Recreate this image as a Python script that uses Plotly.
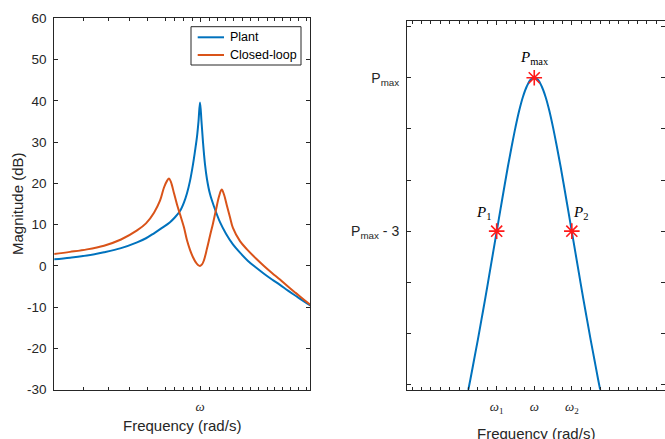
import plotly.graph_objects as go

W, H = 665, 439

# ---------------- Left panel: magnitude responses (frequency normalised, omega = 1) ----------------
plant_freq = [0.4315, 0.4732, 0.5218, 0.5754, 0.6346, 0.6960, 0.7328, 0.7674, 0.8035, 0.8414,
              0.8660, 0.8913, 0.9120, 0.9279, 0.9441, 0.9605, 0.9716, 0.9829, 0.9914, 1.0000,
              1.0087, 1.0174, 1.0292, 1.0411, 1.0593, 1.0839, 1.1220, 1.1614, 1.2088, 1.2589,
              1.3183, 1.3804, 1.4454, 1.5136, 1.5849, 1.6596, 1.7378, 1.8197, 1.8870]
plant_db = [1.6, 2.0, 2.5, 3.3, 4.3, 5.7, 6.7, 7.9, 9.2, 10.6,
            11.8, 13.3, 15.4, 17.6, 20.6, 24.6, 27.8, 31.3, 35.0, 39.6,
            35.0, 30.0, 24.6, 21.0, 17.4, 14.4, 10.6, 7.8, 5.2, 3.2,
            1.2, -0.4, -1.9, -3.3, -4.6, -6.0, -7.3, -8.6, -9.6]

cl_freq = [0.4315, 0.4732, 0.5218, 0.5754, 0.6346, 0.6960, 0.7328, 0.7674, 0.7943, 0.8128,
           0.8270, 0.8366, 0.8462, 0.8610, 0.8760, 0.8913, 0.9120, 0.9279, 0.9441, 0.9605,
           0.9772, 0.9886, 1.0000, 1.0116, 1.0233, 1.0411, 1.0593, 1.0777, 1.0965, 1.1156,
           1.1331, 1.1482, 1.1682, 1.1885, 1.2088, 1.2589, 1.3106, 1.3804, 1.4454, 1.5136,
           1.5849, 1.6596, 1.7378, 1.8197, 1.8870]
cl_db = [2.9, 3.4, 4.0, 4.9, 6.4, 8.6, 10.3, 12.9, 15.8, 19.0,
         20.6, 21.2, 20.3, 17.6, 14.9, 12.5, 9.3, 6.2, 3.9, 2.1,
         0.8, 0.2, 0.0, 0.35, 1.4, 4.2, 7.3, 10.3, 13.6, 16.8,
         18.5, 17.3, 14.5, 11.8, 9.2, 6.0, 4.0, 1.8, 0.0, -1.7,
         -3.3, -5.0, -6.6, -8.2, -9.4]

left_ytick_vals = [-30, -20, -10, 0, 10, 20, 30, 40, 50, 60]
left_ytick_text = ["-30", "-20", "-10", "0", "10", "20", "30", "40", "50", "60"]
left_xtick_vals = [1.0]
left_xtick_text = ["<i>ω</i>"]
left_xminor_vals = [0.511, 0.590, 0.665, 0.740, 0.818, 0.861, 0.908, 0.957, 1.055, 1.107,
                    1.161, 1.216, 1.276, 1.339, 1.404, 1.473, 1.540, 1.610, 1.686, 1.768, 1.849]

legend_names = ["Plant", "Closed-loop"]

# ---------------- Right panel: -3 dB bandwidth sketch ----------------
bw_freq = [0.905, 0.910, 0.915, 0.920, 0.925, 0.930, 0.935, 0.940, 0.945, 0.950,
           0.955, 0.960, 0.965, 0.970, 0.975, 0.980, 0.985, 0.990, 0.995, 1.000,
           1.005, 1.010, 1.015, 1.020, 1.025, 1.030, 1.035, 1.040, 1.045, 1.050,
           1.055, 1.060, 1.065, 1.070, 1.075, 1.080, 1.085, 1.090, 1.095]
bw_db = [-6.64, -6.27, -5.90, -5.51, -5.12, -4.71, -4.30, -3.87, -3.44, -3.01,
         -2.58, -2.15, -1.73, -1.34, -0.97, -0.64, -0.37, -0.17, -0.04, 0.00,
         -0.04, -0.17, -0.37, -0.64, -0.97, -1.34, -1.73, -2.15, -2.58, -3.01,
         -3.44, -3.87, -4.30, -4.71, -5.12, -5.51, -5.90, -6.27, -6.64]

pt_freq = [0.95, 1.0, 1.05]
pt_db = [-3.0, 0.0, -3.0]
pt_labels = ["<i>P</i><sub>1</sub>", "<i>P</i><sub>max</sub>", "<i>P</i><sub>2</sub>"]
pt_shift = [(-13.5, 18.5), (0, 20), (8.5, 18.5)]

right_ytick_vals = [-6, -5, -4, -3, -2, -1, 0, 1]
right_ytick_text = ["", "", "", "P<sub>max</sub> - 3", "", "", "P<sub>max</sub>", ""]
right_xtick_vals = [0.95, 1.0, 1.05]
right_xtick_text = ["<i>ω</i><sub>1</sub>", "<i>ω</i>", "<i>ω</i><sub>2</sub>"]

BLUE = "#0072BD"
ORANGE = "#D95319"
RED = "#FF1A1A"
AX = "#262626"
SANS = "Liberation Sans, Arial, sans-serif"
SERIF = "Liberation Serif, Times New Roman, serif"
colors = [BLUE, ORANGE]

fig = go.Figure()
fig.add_trace(go.Scatter(x=plant_freq, y=plant_db, mode="lines", name=legend_names[0],
                         line=dict(color=BLUE, width=2, shape="spline", smoothing=1.0),
                         xaxis="x", yaxis="y"))
fig.add_trace(go.Scatter(x=cl_freq, y=cl_db, mode="lines", name=legend_names[1],
                         line=dict(color=ORANGE, width=2, shape="spline", smoothing=1.0),
                         xaxis="x", yaxis="y"))
fig.add_trace(go.Scatter(x=bw_freq, y=bw_db, mode="lines", showlegend=False,
                         line=dict(color=BLUE, width=2, shape="spline", smoothing=1.0),
                         xaxis="x2", yaxis="y2"))
fig.add_trace(go.Scatter(x=pt_freq, y=pt_db, mode="markers", showlegend=False,
                         marker=dict(symbol="asterisk-open", size=13, color=RED,
                                     line=dict(color=RED, width=1.6)),
                         xaxis="x2", yaxis="y2", cliponaxis=False))


def px_x(p):
    return p / W


def px_y(p):
    return (H - p) / H


common_axis = dict(showline=True, linecolor=AX, linewidth=1, mirror="allticks",
                   ticks="inside", tickcolor=AX, ticklen=4, showgrid=False,
                   zeroline=False, automargin=False,
                   tickfont=dict(family=SANS, size=13.5, color=AX))

fig.update_layout(
    width=W, height=H, autosize=False,
    margin=dict(l=0, r=0, t=0, b=0, pad=0, autoexpand=False),
    paper_bgcolor="white", plot_bgcolor="white",
    showlegend=False,
    xaxis=dict(common_axis, type="log", domain=[px_x(54.3), px_x(310.3)], anchor="y",
               range=[-0.3643, 0.2758], tickmode="array", tickvals=left_xtick_vals,
               ticktext=left_xtick_text, ticklabelstandoff=5,
               tickfont=dict(family=SERIF, size=13, color=AX),
               minor=dict(tickmode="array", tickvals=left_xminor_vals, ticks="inside",
                          ticklen=2.5, tickcolor=AX)),
    yaxis=dict(common_axis, domain=[px_y(389.7), px_y(18.3)], anchor="x",
               range=[-30, 60], tickmode="array", tickvals=left_ytick_vals,
               ticktext=left_ytick_text, ticklabelstandoff=4),
    xaxis2=dict(common_axis, domain=[px_x(407), px_x(664.5)], anchor="y2",
                range=[0.8307, 1.1733], tickmode="array", tickvals=right_xtick_vals,
                ticktext=right_xtick_text, ticklabelstandoff=5,
                tickfont=dict(family=SERIF, size=13, color=AX),
                minor=dict(tick0=1.0, dtick=0.0125, ticks="inside", ticklen=2.5,
                           tickcolor=AX)),
    yaxis2=dict(common_axis, domain=[px_y(389.7), px_y(21)], anchor="x2",
                range=[-6.1, 1.11], tickmode="array", tickvals=right_ytick_vals,
                ticktext=right_ytick_text, ticklabelstandoff=4,
                tickfont=dict(family=SANS, size=14, color=AX)),
)

# Legend box (drawn in paper space, matching the compact MATLAB legend)
shapes = [dict(type="rect", xref="paper", yref="paper",
               x0=px_x(191), x1=px_x(301), y0=px_y(65), y1=px_y(26.7),
               line=dict(color=AX, width=1), fillcolor="white", layer="above")]
annotations = []
for i, (name, col) in enumerate(zip(legend_names, colors)):
    yc = 37.3 + i * 17.7
    shapes.append(dict(type="line", xref="paper", yref="paper",
                       x0=px_x(197.7), x1=px_x(224), y0=px_y(yc), y1=px_y(yc),
                       line=dict(color=col, width=2), layer="above"))
    annotations.append(dict(text=name, xref="paper", yref="paper",
                            x=px_x(227.5), y=px_y(yc), xanchor="left", yanchor="middle",
                            showarrow=False, font=dict(family=SANS, size=12.5, color="black")))

annotations += [
    dict(text="Magnitude (dB)", textangle=-90, xref="paper", yref="paper",
         x=px_x(17), y=px_y(204), xanchor="center", yanchor="middle", showarrow=False,
         font=dict(family=SANS, size=15, color=AX)),
    dict(text="Frequency (rad/s)", xref="paper", yref="paper",
         x=px_x(182.3), y=px_y(425), xanchor="center", yanchor="middle", showarrow=False,
         font=dict(family=SANS, size=15, color=AX)),
    dict(text="Frequency (rad/s)", xref="paper", yref="paper",
         x=px_x(535.7), y=px_y(433), xanchor="center", yanchor="middle", showarrow=False,
         font=dict(family=SANS, size=15, color=AX)),
]
for fx, fy, lab, (dx, dy) in zip(pt_freq, pt_db, pt_labels, pt_shift):
    annotations.append(dict(text=lab, xref="x2", yref="y2", x=fx, y=fy,
                            xshift=dx, yshift=dy, xanchor="center", yanchor="middle",
                            showarrow=False, font=dict(family=SERIF, size=15, color="black")))
fig.update_layout(annotations=annotations, shapes=shapes)

fig.write_html("out.html", config={"displayModeBar": False})
